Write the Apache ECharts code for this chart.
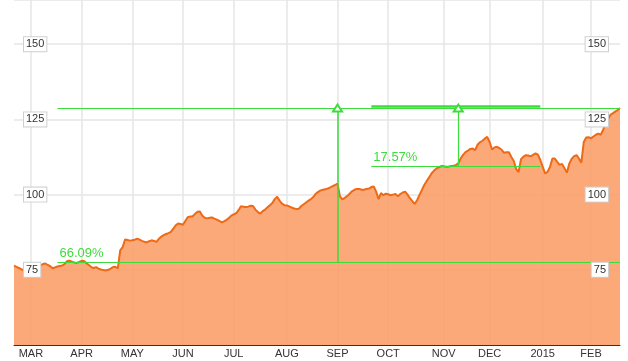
<!DOCTYPE html>
<html>
<head>
<meta charset="utf-8">
<script src="https://cdn.jsdelivr.net/npm/echarts@6/dist/echarts.min.js"></script>
<style>html,body{margin:0;padding:0;background:#fff;}#c{width:628px;height:361px;}</style>
</head>
<body>
<div id="c"></div>
<script>
// Month labels and the trading-day index where each month starts
const monthLabels = ['MAR','APR','MAY','JUN','JUL','AUG','SEP','OCT','NOV','DEC','2015','FEB'];
const monthStartIdx = [7,28,49,70,91,113,134,155,178,197,219,239];

// Daily closing values (trading days, Feb 2014 - Feb 2015)
const price = [
76.4,76.0,75.6,75.2,74.8,75.3,75.8,75.5,75.9,76.0,
76.2,76.5,76.9,77.1,76.6,76.2,75.5,75.8,76.1,76.3,
76.4,77.0,77.9,78.0,77.7,77.4,77.3,77.6,78.0,77.9,
77.2,76.6,75.9,75.6,75.9,75.4,75.1,74.9,74.8,75.0,
75.4,75.9,76.0,75.5,81.5,82.5,85.1,84.9,84.7,84.8,
85.0,85.4,85.0,84.6,84.3,84.1,84.5,84.8,84.6,84.3,
85.3,86.0,86.5,86.9,87.2,87.6,88.7,89.8,90.4,90.2,
90.0,91.3,92.5,92.7,92.8,93.6,94.3,94.4,93.0,92.3,
92.1,92.3,92.4,92.0,91.7,91.3,90.8,91.1,91.6,92.2,
93.0,93.4,93.8,94.8,96.1,96.0,95.9,96.0,96.3,96.2,
95.0,94.2,93.7,94.5,95.0,95.8,96.5,97.2,98.5,99.3,
98.0,97.0,96.5,96.4,96.1,95.7,95.4,95.2,95.3,96.2,
96.8,97.4,98.0,98.5,99.2,100.3,100.9,101.4,101.6,101.8,
102.0,102.4,102.8,103.2,103.7,99.4,98.4,98.9,99.5,100.3,
101.1,101.6,101.9,101.9,101.6,101.6,101.9,102.0,102.5,102.7,
101.0,98.5,100.5,99.8,100.3,100.1,99.8,100.0,100.2,99.4,
100.2,100.7,101.0,100.0,98.8,97.8,96.9,98.2,100.0,101.6,
103.3,104.6,105.8,107.1,108.0,108.7,109.1,109.5,109.4,109.3,
109.3,109.5,109.6,109.8,110.4,112.0,113.2,114.1,114.6,115.2,
115.3,114.8,116.6,117.4,117.9,118.6,119.2,117.5,115.0,115.7,
115.9,115.5,114.9,113.9,114.1,114.1,112.5,111.2,108.5,107.5,
111.8,112.6,113.1,113.0,112.7,113.2,113.7,113.3,111.5,109.2,
107.0,107.6,109.2,112.0,112.0,110.9,109.9,110.2,108.8,107.3,
110.3,111.9,112.8,113.1,112.0,110.6,117.5,119.0,119.1,118.7,
119.3,119.9,120.3,119.9,121.5,123.4,125.0,126.5,127.0,127.6,
128.1,128.8
];

// Annotations (trading-day indices and values)
const annoA = { from: 18, to: 251, base: 77.55, top: 128.8, arrowAt: 134.3, text: '66.09%' };
const annoB = { from: 148, to: 218, base: 109.55, top: 128.8, topThick: 129.25, arrowAt: 183.5, text: '17.57%' };

const days = price.map((_, i) => String(i));
const labelMap = {};
monthStartIdx.forEach((idx, k) => { labelMap[idx] = monthLabels[k]; });
const isMonthStart = (i) => labelMap[i] !== undefined;

const GREEN = '#3ddc3d';
const FONT = "'Liberation Sans', Arial, sans-serif";
const Y_MIN = 50, Y_MAX = 164.7, Y_STEP = 25;
const yLabel = {
  inside: true, fontSize: 11, color: '#333', fontFamily: FONT,
  backgroundColor: '#fff', borderColor: '#cfcfcf', borderWidth: 1,
  padding: [2, 2, 1, 2], showMinLabel: false, showMaxLabel: false
};
function labelAxis(pos, margin) {
  return {
    type: 'value', min: Y_MIN, max: Y_MAX, interval: Y_STEP, position: pos, z: 10,
    axisLine: { show: false }, axisTick: { show: false }, splitLine: { show: false },
    axisLabel: Object.assign({ margin: margin }, yLabel)
  };
}

const chart = echarts.init(document.getElementById('c'), null, { renderer: 'canvas' });
chart.setOption({
  animation: false,
  grid: { left: 14, right: 8, top: 0, bottom: 16 },
  xAxis: {
    type: 'category', data: days, boundaryGap: false, z: 0,
    axisLine: { lineStyle: { color: '#333', width: 1 } },
    axisTick: { show: false },
    axisLabel: {
      interval: (i) => isMonthStart(i),
      formatter: (v, i) => labelMap[i] || '',
      fontSize: 11, color: '#333', fontFamily: FONT, margin: 3
    },
    splitLine: { show: true, interval: (i) => isMonthStart(i), lineStyle: { color: '#e6e6e6', width: 1.5 } }
  },
  yAxis: [
    labelAxis('left', 10),
    labelAxis('right', 12),
    {
      type: 'value', min: Y_MIN, max: Y_MAX, interval: Y_STEP, position: 'left', z: 0,
      axisLine: { show: false }, axisTick: { show: false }, axisLabel: { show: false },
      splitLine: { lineStyle: { color: '#e6e6e6', width: 1.5 } }
    }
  ],
  series: [{
    type: 'line', data: price, showSymbol: false, symbol: 'none', yAxisIndex: 2,
    lineStyle: { color: '#ee6a16', width: 2 },
    areaStyle: { color: 'rgba(251,160,105,0.9)', opacity: 1 },
    z: 2,
    markLine: {
      silent: true, symbol: ['none', 'none'], animation: false, z: 5,
      lineStyle: { color: GREEN, width: 1, type: 'solid', opacity: 1 },
      label: { show: false },
      emphasis: { disabled: true },
      data: [
        [{ coord: [annoA.from, annoA.top] }, { coord: [annoA.to, annoA.top] }],
        [{ coord: [annoA.from, annoA.base],
           label: { show: true, position: 'insideStartTop', formatter: annoA.text, color: GREEN, fontSize: 13, fontFamily: FONT, distance: 2 } },
         { coord: [annoA.to, annoA.base] }],
        [{ coord: [annoA.arrowAt, annoA.base], symbol: 'none', lineStyle: { color: GREEN, width: 1.5 } },
         { coord: [annoA.arrowAt, annoA.top], symbol: 'emptyTriangle', symbolSize: [9, 7] }],
        [{ coord: [annoB.from, annoB.topThick], lineStyle: { width: 2.5 } }, { coord: [annoB.to, annoB.topThick] }],
        [{ coord: [annoB.from, annoB.base],
           label: { show: true, position: 'insideStartTop', formatter: annoB.text, color: GREEN, fontSize: 13, fontFamily: FONT, distance: 2 } },
         { coord: [annoB.to, annoB.base] }],
        [{ coord: [annoB.arrowAt, annoB.base], symbol: 'none', lineStyle: { color: GREEN, width: 1.2 } },
         { coord: [annoB.arrowAt, annoB.top], symbol: 'emptyTriangle', symbolSize: [9, 7] }]
      ]
    }
  }]
});
</script>
</body>
</html>
